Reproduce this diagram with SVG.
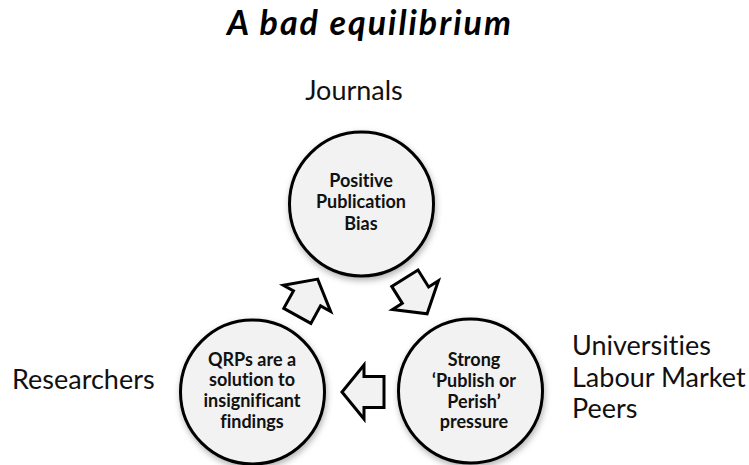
<svg xmlns="http://www.w3.org/2000/svg" width="749" height="465" viewBox="0 0 749 465">
<style>
text{font-variant-ligatures:none}
.node circle{fill:#f2f2f2;stroke:#000;stroke-width:3;filter:url(#sh)}
.nt{font-family:Lato,"Liberation Sans",sans-serif;font-weight:bold;font-size:18px;text-anchor:middle;fill:#111}
.lbl{font-family:Lato,"Liberation Sans",sans-serif;font-size:27px;fill:#111}
.arr{fill:#f2f2f2;stroke:#000;stroke-width:3;stroke-linejoin:miter}
</style>
<defs>
<filter id="sh" x="-20%" y="-20%" width="150%" height="150%">
<feDropShadow dx="1" dy="3" stdDeviation="3" flood-color="#000" flood-opacity="0.3"/>
</filter>
<path id="ba" d="M21,0 L-1,-27 L-1,-15.5 L-21,-15.5 L-21,15.5 L-1,15.5 L-1,27 Z"/>
</defs>
<rect width="749" height="465" fill="#fff"/>
<text x="370" y="35" font-family="Lato,'Liberation Sans',sans-serif" font-weight="bold" font-style="italic" font-size="34" letter-spacing="2" text-anchor="middle" fill="#000">A bad equilibrium</text>
<text class="lbl" x="354" y="100" text-anchor="middle">Journals</text>
<text class="lbl" x="12" y="389">Researchers</text>
<text class="lbl" x="572" y="355">Universities</text>
<text class="lbl" x="572" y="387">Labour Market</text>
<text class="lbl" x="572" y="418">Peers</text>
<g id="connectors">
<use href="#ba" class="arr" transform="translate(307.5,297.5) rotate(-61)"/>
<use href="#ba" class="arr" transform="translate(416,296) rotate(58)"/>
<use href="#ba" class="arr" transform="translate(363,392) rotate(180)"/>
</g>
<g id="node-top" class="node">
<circle cx="361.5" cy="204" r="72"/>
<text class="nt" x="361" y="187">Positive</text>
<text class="nt" x="361" y="208">Publication</text>
<text class="nt" x="361" y="230">Bias</text>
</g>
<g id="node-left" class="node">
<circle cx="252.5" cy="392" r="72"/>
<text class="nt" x="252" y="366">QRPs are a</text>
<text class="nt" x="252" y="386">solution to</text>
<text class="nt" x="252" y="407">insignificant</text>
<text class="nt" x="252" y="428">findings</text>
</g>
<g id="node-right" class="node">
<circle cx="470.5" cy="391" r="72"/>
<text class="nt" x="474" y="366">Strong</text>
<text class="nt" x="474" y="387">‘Publish or</text>
<text class="nt" x="474" y="408">Perish’</text>
<text class="nt" x="474" y="428">pressure</text>
</g>
</svg>
